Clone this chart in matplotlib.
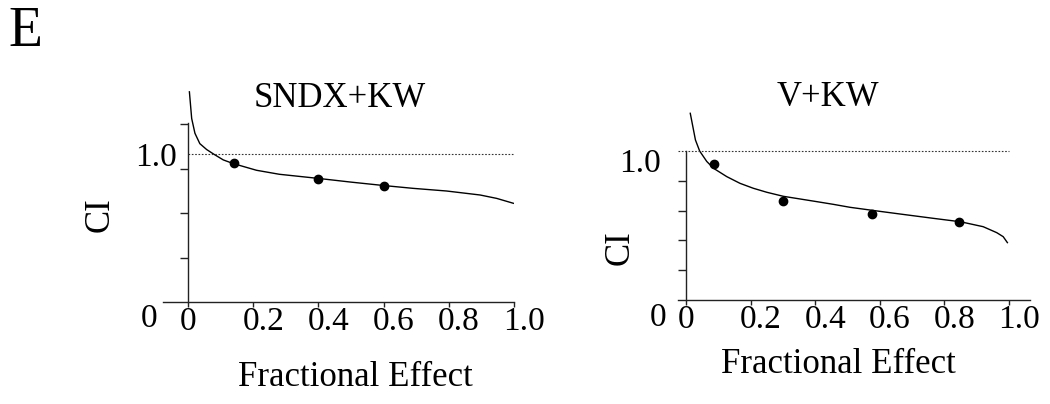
import matplotlib
matplotlib.use('Agg')
import matplotlib.pyplot as plt
import matplotlib.transforms as mtransforms

plt.rcParams['font.family'] = ['Liberation Serif', 'DejaVu Serif']

sndx_fa = [0.004, 0.011, 0.021, 0.036, 0.057, 0.078, 0.108, 0.139, 0.21, 0.28,
           0.40, 0.50, 0.60, 0.69, 0.793, 0.896, 0.947, 0.998]
sndx_ci = [1.42, 1.24, 1.14, 1.07, 1.03, 1.0, 0.96, 0.935, 0.89, 0.863,
           0.835, 0.81, 0.787, 0.768, 0.75, 0.723, 0.70, 0.667]
sndx_pts_fa = [0.14, 0.40, 0.60]
sndx_pts_ci = [0.94, 0.83, 0.786]

v_fa = [0.013, 0.029, 0.042, 0.064, 0.085, 0.126, 0.167, 0.208, 0.25, 0.301,
        0.353, 0.405, 0.456, 0.508, 0.60, 0.663, 0.766, 0.85, 0.92, 0.962,
        0.982, 0.995]
v_ci = [1.253, 1.074, 1.0, 0.93, 0.884, 0.828, 0.783, 0.75, 0.723, 0.696,
        0.678, 0.66, 0.642, 0.622, 0.595, 0.577, 0.548, 0.525, 0.492, 0.452,
        0.425, 0.385]
v_pts_fa = [0.088, 0.30, 0.576, 0.846]
v_pts_ci = [0.91, 0.664, 0.58, 0.526]

x_ticks = [0, 0.2, 0.4, 0.6, 0.8, 1.0]
x_labels = ['0', '0.2', '0.4', '0.6', '0.8', '1.0']

fig = plt.figure(figsize=(10.5, 4.04), dpi=100)
W, H = 1050, 404


def add_ax(left, right, top, bottom):
    return fig.add_axes([left / W, 1 - bottom / H, (right - left) / W, (bottom - top) / H])


def shift(lbl, dx, dy):
    off = mtransforms.ScaledTranslation(dx / 100, -dy / 100, fig.dpi_scale_trans)
    lbl.set_transform(lbl.get_transform() + off)


def style(ax, xlim, ylim, ybound, minor):
    ax.set_xlim(*xlim)
    ax.set_ylim(*ylim)
    for s in ['top', 'right']:
        ax.spines[s].set_visible(False)
    ax.spines['left'].set_position(('data', 0))
    ax.spines['left'].set_bounds(0, ybound)
    for s in ['left', 'bottom']:
        ax.spines[s].set_linewidth(1.0)
        ax.spines[s].set_color('#222222')
    ax.set_xticks(x_ticks, x_labels)
    ax.tick_params(axis='x', direction='out', length=3.6, width=1.0, pad=0,
                   labelsize=24, color='#222222')
    ax.set_yticks([0, 1.0], ['0', '1.0'])
    ax.set_yticks(minor, minor=True)
    ax.tick_params(axis='y', which='major', length=0, labelsize=24)
    ax.tick_params(axis='y', which='minor', direction='out', length=5.8,
                   width=1.0, color='#222222')
    for lbl in ax.get_xticklabels()[1:]:
        shift(lbl, 10, 0)


# left panel: SNDX+KW
ax1 = add_ax(163, 514, 302 - 1.45 * 148, 302)
style(ax1, (-0.077, 1.0), (0, 1.45), 1.21, [0.3, 0.6, 0.9, 1.2])
ax1.plot(sndx_fa, sndx_ci, color='black', lw=1.0)
ax1.plot(sndx_pts_fa, sndx_pts_ci, 'o', color='black', ms=6)
ax1.plot([0, 1.0], [1.0, 1.0], color='#333333', lw=0.8, ls=(0, (1.5, 1.5)))
ax1.tick_params(axis='y', which='major', pad=8)
yl = ax1.get_yticklabels()
shift(yl[0], -20, 13)
ax1.text(0.504, 0.95, 'SNDX+KW', transform=ax1.transAxes, ha='center', va='center', fontsize=25)
ax1.set_xlabel('Fractional Effect', fontsize=25)
ax1.xaxis.set_label_coords(0.547, -0.35)
ax1.xaxis.label.set_va('center')
ax1.set_ylabel('CI', fontsize=25)
ax1.yaxis.set_label_coords(-0.179, 0.405)
ax1.yaxis.label.set_va('center')

# right panel: V+KW
ax2 = add_ax(678, 1030, 300 - 1.3 * 149, 300)
style(ax2, (-0.025, 1.065), (0, 1.3), 1.0, [0.2, 0.4, 0.6, 0.8])
ax2.plot(v_fa, v_ci, color='black', lw=1.0)
ax2.plot(v_pts_fa, v_pts_ci, 'o', color='black', ms=6)
ax2.plot([-0.025, 1.0], [1.0, 1.0], color='#333333', lw=0.8, ls=(0, (1.5, 1.5)))
ax2.tick_params(axis='y', which='major', pad=18)
yl = ax2.get_yticklabels()
shift(yl[0], 5, 14)
shift(yl[1], 0, 9)
ax2.text(0.426, 1.043, 'V+KW', transform=ax2.transAxes, ha='center', va='center', fontsize=25)
ax2.set_xlabel('Fractional Effect', fontsize=25)
ax2.xaxis.set_label_coords(0.455, -0.335)
ax2.xaxis.label.set_va('center')
ax2.set_ylabel('CI', fontsize=25)
ax2.yaxis.set_label_coords(-0.165, 0.268)
ax2.yaxis.label.set_va('center')

fig.text(25 / W, 1 - 32 / H, 'E', ha='center', va='center', fontsize=40)

fig.savefig('out.png', dpi=100)
